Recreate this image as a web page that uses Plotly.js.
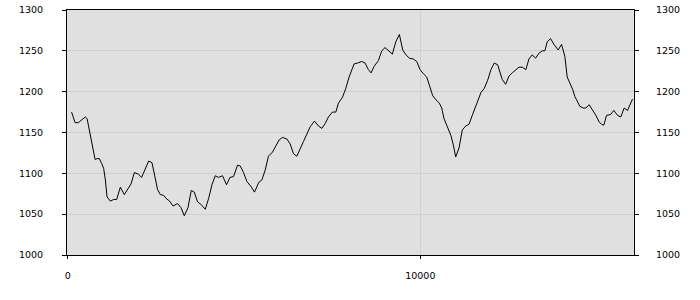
<!DOCTYPE html>
<html>
<head>
<meta charset="utf-8">
<script src="https://cdn.plot.ly/plotly-3.0.1.min.js"></script>
<style>html,body{margin:0;padding:0;background:#fff;}#chart{width:700px;height:300px;}</style>
</head>
<body>
<div id="chart"></div>
<script>
const xValues = [110,210,300,425,500,550,615,680,776,833,898,963,1020,1068,1116,1210,1303,1388,1493,1606,1700,1796,1890,2003,2096,2201,2295,2391,2476,2550,2626,
2720,2796,2890,2986,3116,3213,3306,3411,3504,3589,3683,3779,3901,3995,4091,4184,4278,4391,4504,4601,4703,4816,4893,4986,5082,5196,5298,5420,
5507,5601,5694,5808,5904,5997,6091,6216,6309,6403,6499,6592,6686,6782,6876,6998,7111,7207,7301,7394,7507,7604,7677,7791,7887,7981,8057,
8122,8216,8340,8434,8527,8604,8689,8811,8907,9000,9094,9207,9304,9406,9502,9595,9689,9802,9899,9992,10086,10182,10256,10352,10445,10539,10607,10672,10748,10828,
10870,10935,11003,11097,11190,11287,11380,11474,11570,11644,11720,11814,11910,12003,12097,12193,12258,12323,12420,12513,12607,12703,12797,12890,12995,13080,13173,13270,13363,13457,13533,
13598,13695,13788,13910,14006,14100,14165,14261,14318,14383,14448,14525,14618,14695,14788,14885,14978,15072,15140,15205,15281,15395,15488,15593,15686,15780,15876,16018];
const yValues = [1175,1162,1162,1167,1169,1167,1153,1137,1117,1118,1118,1112,1106,1092,1071,1066,1068,1068,1083,1074,1080,1087,1101,1099,1095,1106,1115,1113,1095,1080,1074,
1073,1069,1066,1060,1063,1058,1048,1058,1079,1077,1065,1062,1056,1069,1086,1097,1095,1097,1086,1095,1096,1110,1109,1101,1090,1084,1077,1089,
1092,1104,1121,1126,1133,1141,1144,1142,1136,1124,1121,1131,1139,1148,1157,1164,1158,1155,1161,1169,1175,1175,1186,1193,1204,1218,1227,
1234,1235,1237,1235,1227,1223,1231,1238,1250,1254,1250,1246,1261,1270,1251,1245,1241,1240,1237,1227,1222,1218,1208,1195,1190,1186,1180,1167,1159,1151,
1146,1135,1120,1131,1153,1158,1160,1171,1182,1190,1199,1204,1214,1227,1235,1233,1224,1215,1209,1219,1223,1227,1230,1230,1227,1240,1245,1241,1247,1250,1250,
1261,1265,1258,1251,1258,1243,1218,1209,1203,1194,1188,1182,1180,1180,1184,1178,1171,1163,1160,1159,1171,1172,1177,1171,1169,1180,1177,1191];
const xTickVals = [0, 10000];
const xTickText = ['0', '10000'];
const yTickVals = [1000, 1050, 1100, 1150, 1200, 1250, 1300];
const yTickText = ['1000', '1050', '1100', '1150', '1200', '1250', '1300'];
const xRange = [-20, 16060];
const yRange = [1000, 1300];

const tickFont = {family: 'DejaVu Sans', size: 9.5, color: '#000'};

const traces = [
  {x: xValues, y: yValues, type: 'scatter', mode: 'lines',
   line: {color: '#000', width: 1}, hoverinfo: 'skip', showlegend: false},
  {x: xValues, y: yValues, type: 'scatter', mode: 'lines', yaxis: 'y2',
   line: {color: 'rgba(0,0,0,0)', width: 0}, hoverinfo: 'skip', showlegend: false}
];

const layout = {
  width: 700, height: 300,
  margin: {l: 67, r: 66, t: 10, b: 45, pad: 0},
  paper_bgcolor: '#ffffff',
  plot_bgcolor: '#e0e0e0',
  showlegend: false,
  xaxis: {
    range: xRange, tickvals: xTickVals, ticktext: xTickText,
    showgrid: true, gridcolor: '#cfcfcf', gridwidth: 1, zeroline: false,
    showline: true, linecolor: '#000', linewidth: 1, mirror: true,
    ticks: 'outside', ticklen: 3, tickcolor: '#000', tickfont: tickFont,
    ticklabelstandoff: 9
  },
  yaxis: {
    range: yRange, tickvals: yTickVals, ticktext: yTickText,
    showgrid: true, gridcolor: '#cfcfcf', gridwidth: 1, zeroline: false,
    showline: true, linecolor: '#000', linewidth: 1, mirror: true,
    ticks: 'outside', ticklen: 4, tickcolor: '#000', tickfont: tickFont,
    ticklabelstandoff: 17
  },
  yaxis2: {
    range: yRange, tickvals: yTickVals, ticktext: yTickText,
    overlaying: 'y', side: 'right', anchor: 'x',
    showgrid: false, zeroline: false, showline: false,
    ticks: 'outside', ticklen: 4, tickcolor: '#000', tickfont: tickFont,
    ticklabelstandoff: 15
  }
};

Plotly.newPlot('chart', traces, layout, {staticPlot: true, displayModeBar: false});
</script>
</body>
</html>
